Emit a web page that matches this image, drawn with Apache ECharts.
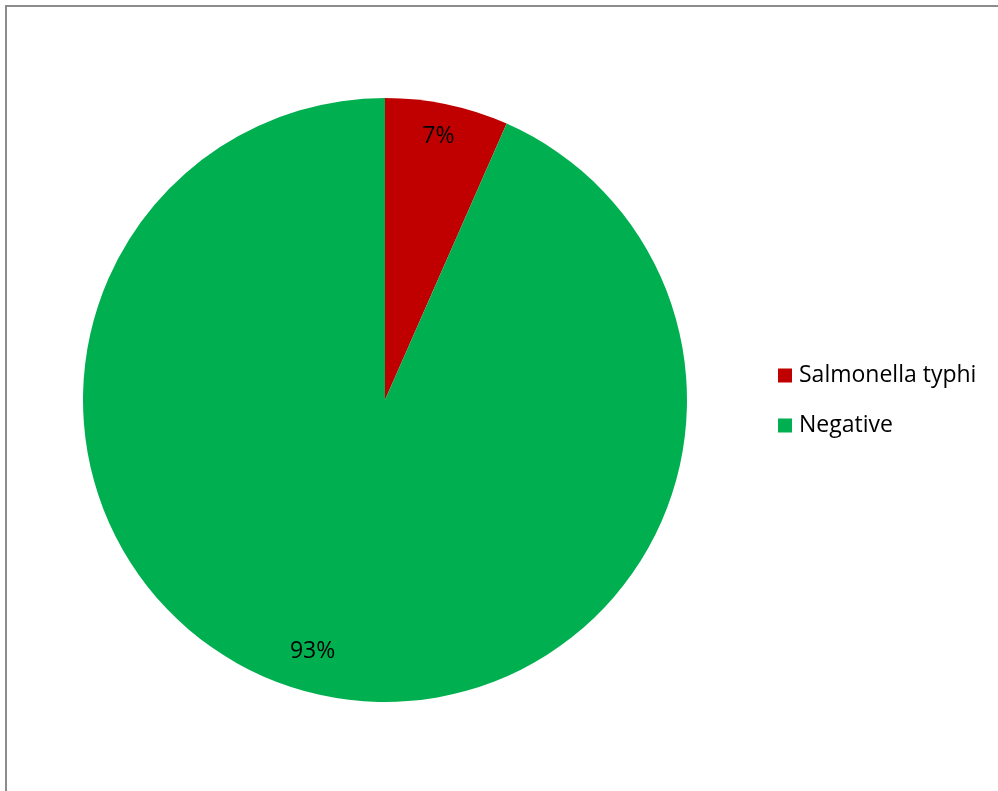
<!DOCTYPE html>
<html><head><meta charset="utf-8">
<script src="https://cdn.jsdelivr.net/npm/echarts@6/dist/echarts.min.js"></script>
<style>html,body{margin:0;padding:0;background:#fff}#c{width:998px;height:791px}</style>
</head><body><div id="c"></div>
<script>
var categories = ['Salmonella typhi', 'Negative'];
var values = [6.6, 93.4];
var colors = ['#C00000', '#00B050'];
var labelOffsets = [[-2, 0], [-17, -12]];

var data = categories.map(function (n, i) { return { name: n, value: values[i], itemStyle: { color: colors[i] } }; });
var font = 'Open Sans';
var chart = echarts.init(document.getElementById('c'));
chart.setOption({
  animation: false,
  graphic: [{ type: 'rect', shape: { x: 6, y: 6, width: 1100, height: 900 }, style: { fill: 'none', stroke: '#8c8c8c', lineWidth: 2 }, silent: true }],
  legend: {
    orient: 'vertical', left: 773, top: 359, itemWidth: 14, itemHeight: 14, itemGap: 27,
    icon: 'rect', data: categories,
    textStyle: { fontFamily: font, fontSize: 23, color: '#000', padding: [0, 0, 0, 2] }
  },
  series: [{
    type: 'pie', center: [385, 400], radius: 302, startAngle: 90, clockwise: true,
    label: { show: false }, labelLine: { show: false }, data: data, silent: true
  }, {
    type: 'pie', center: [385, 400], radius: [232, 300], startAngle: 90, clockwise: true,
    itemStyle: { color: 'rgba(0,0,0,0)' }, silent: true, legendHoverLink: false,
    label: { show: true, position: 'inside', formatter: function (p) { return Math.round(p.percent) + '%'; }, fontFamily: font, fontSize: 23, color: '#000' },
    labelLine: { show: false },
    data: categories.map(function (n, i) { return { name: n + ' ', value: values[i], itemStyle: { color: 'rgba(0,0,0,0)' }, label: { offset: labelOffsets[i] } }; })
  }]
});
</script></body></html>
